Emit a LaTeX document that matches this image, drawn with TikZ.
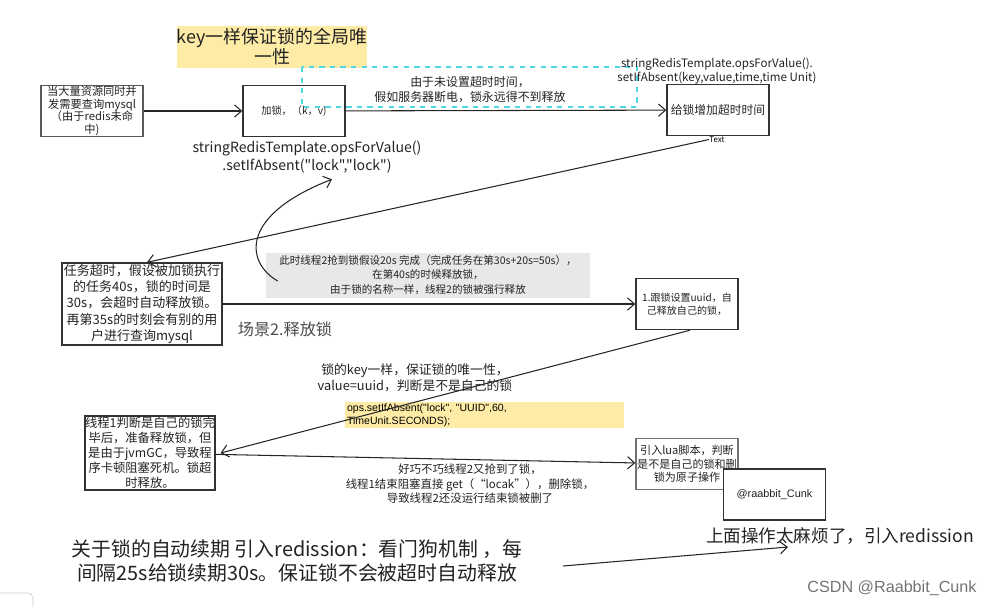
\documentclass[tikz,border=0pt]{standalone}
\usepackage{fontspec}
\setmainfont{Noto Sans CJK SC}
\newfontfamily\codefont{Noto Sans CJK SC}
\newfontfamily\arialfont{Liberation Sans}
\usetikzlibrary{arrows.meta}
\definecolor{notey}{HTML}{FDEBA6}
\definecolor{noteg}{HTML}{E8E8E8}
\definecolor{dashc}{HTML}{4FD8E4}
\definecolor{inkc}{HTML}{222222}
\begin{document}
\begin{tikzpicture}[
  x=0.02cm, y=-0.02cm,
  box/.style={draw=black!80, line width=0.8pt, minimum width=2.04cm, minimum height=1.02cm, inner sep=0pt, align=center, text=inkc},
  lbl/.style={align=center, inner sep=0pt, text=inkc},
  >={Straight Barb[length=4pt,width=7pt]},
  arr/.style={->, line width=0.6pt, black!85}
]
\useasboundingbox (0,0) rectangle (994,606);

% scene 1: set the lock
\node[fill=notey, minimum width=3.64cm, minimum height=0.84cm, lbl, font=\fontsize{10.2}{11.4}\selectfont] (uniq) at (272,47) {key一样保证锁的全局唯\\一性};
\draw[dashc, dashed, line width=0.8pt] (302,67) rectangle (637,107);
\node[box, draw=black!65, text width=2.04cm, font=\fontsize{6.4}{7.2}\selectfont] (query) at (92,111) {当大量资源同时并\\发需要查询mysql\\（由于redis未命\\中)};
\node[box, font=\fontsize{5.8}{6.5}\selectfont] (lock) at (294,111) {加锁，（k，v)};
\node[lbl, font=\codefont\fontsize{8}{10}\selectfont] (lockcode) at (307,157) {stringRedisTemplate.opsForValue()\\.setIfAbsent("lock","lock")};
\node[lbl, font=\fontsize{6.8}{8.5}\selectfont] (nottl) at (470,90) {由于未设置超时时间，\\假如服务器断电，锁永远得不到释放};
\node[lbl, font=\codefont\fontsize{6.6}{7.9}\selectfont] (ttlcode) at (717,71) {stringRedisTemplate.opsForValue().\\setIfAbsent(key,value,time,time Unit)};
\node[box, font=\fontsize{6.7}{8}\selectfont] (ttl) at (718,110) {给锁增加超时时间};
\node[lbl, font=\fontsize{4.5}{5}\selectfont, text=black] (txt) at (717,139.5) {Text};
\draw[arr] (query) -- (lock);
\draw[arr] (lock) -- (ttl);

% scene 2: release the lock
\node[box, minimum width=3.2cm, minimum height=1.64cm, font=\fontsize{7.4}{9.3}\selectfont] (task) at (142,304) {任务超时，假设被加锁执行\\的任务40s，锁的时间是\\30s，会超时自动释放锁。\\再第35s的时刻会有别的用\\户进行查询mysql};
\node[lbl, fill=noteg, minimum width=6.48cm, minimum height=0.9cm, font=\fontsize{6}{8.2}\selectfont] (note) at (428,275) {此时线程2抢到锁假设20s 完成（完成任务在第30s+20s=50s），\\在第40s的时候释放锁，\\由于锁的名称一样，线程2的锁被强行释放};
\node[lbl, font=\fontsize{9.2}{10}\selectfont, text=black!70] (scene) at (285,329) {场景2.释放锁};
\node[box, font=\fontsize{5.7}{7.4}\selectfont] (uuid) at (687,304) {1.跟锁设置uuid，自\\己释放自己的锁，};
\draw[arr] (txt.west) -- ([xshift=0.1cm]task.north);
\draw[arr] ([shift={(12,6)}]note.west) .. controls (245,262) and (240,215) .. ([shift={(25,6)}]lockcode.south);
\draw[arr] (task) -- (uuid);

% scene 3: uuid and lua
\node[lbl, font=\fontsize{7.3}{9}\selectfont] (keyuniq) at (415,378) {锁的key一样，保证锁的唯一性，\\value=uuid，判断是不是自己的锁};
\node[fill=notey, minimum width=5.58cm, minimum height=0.52cm, inner sep=1pt, text width=5.5cm, align=left, font=\arialfont\fontsize{6}{7.4}\selectfont] (ops) at (484.5,415) {ops.setIfAbsent("lock", "UUID",60,\\TimeUnit.SECONDS);};
\node[box, minimum width=2.48cm, minimum height=1.48cm, font=\fontsize{7}{8.6}\selectfont] (t1) at (150,453) {线程1判断是自己的锁完\\毕后，准备释放锁，但\\是由于jvmGC，导致程\\序卡顿阻塞死机。锁超\\时释放。};
\node[lbl, font=\fontsize{6.5}{8.2}\selectfont] (grab) at (470,484) {好巧不巧线程2又抢到了锁，\\线程1结束阻塞直接 get（“locak”），删除锁，\\导致线程2还没运行结束锁被删了};
\node[box, draw=black!55, font=\fontsize{6.3}{7.6}\selectfont] (lua) at (687,464) {引入lua脚本，判断\\是不是自己的锁和删\\锁为原子操作};
\node[box, fill=white, font=\arialfont\fontsize{6.2}{7}\selectfont] (author) at (774.5,494.5) {@raabbit\_Cunk};
\draw[arr] ([xshift=0.06cm]uuid.south) -- ([xshift=0.1cm]t1.east);
\draw[arr] (t1) -- (lua);

% scene 4: redission
\node[lbl, font=\fontsize{10}{11}\selectfont] (redis) at (840,536) {上面操作太麻烦了，引入redission};
\node[lbl, font=\fontsize{11.3}{13.6}\selectfont] (renew) at (297,561) {关于锁的自动续期 引入redission：看门狗机制 ，每\\间隔25s给锁续期30s。保证锁不会被超时自动释放};
\coordinate (r0) at (563,566);
\coordinate (r1) at (788,547);
\draw[arr] (r0) -- (r1);

\node[font=\arialfont\fontsize{9.2}{10}\selectfont, text=black!55, inner sep=0pt] (mark) at (892,588) {CSDN @Raabbit\_Cunk};
\draw[black!20, rounded corners=3pt] (-5,593) rectangle (33,615);
\end{tikzpicture}
\end{document}
